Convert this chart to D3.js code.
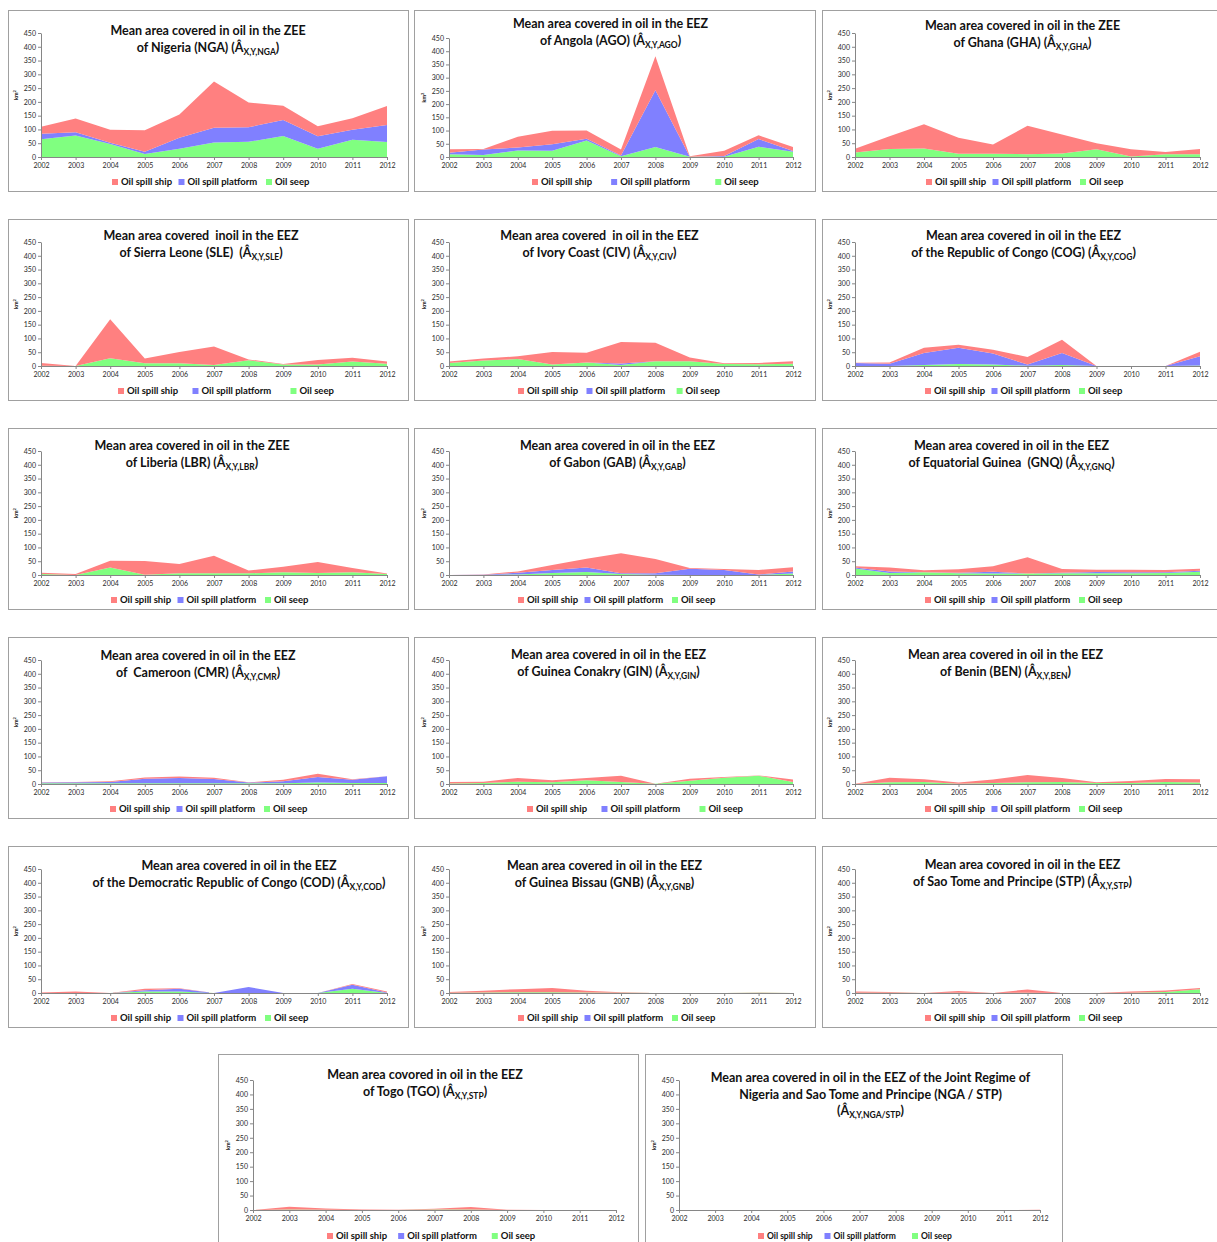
<!DOCTYPE html>
<html>
<head>
<meta charset="utf-8">
<script src="https://cdn.jsdelivr.net/npm/d3@7"></script>
<style>
  body { margin: 0; background: #fff; }
  text { font-family: Lato, "Open Sans", sans-serif; }
</style>
</head>
<body>
<svg id="chart" width="1217" height="1242"></svg>
<script>
// categories and ticks
var years = [2002, 2003, 2004, 2005, 2006, 2007, 2008, 2009, 2010, 2011, 2012];
var yTicks = [0, 50, 100, 150, 200, 250, 300, 350, 400, 450];
var seriesKeys = ["seep", "platform", "ship"];
var legendLabels = ["Oil spill ship", "Oil spill platform", "Oil seep"];

// km2 per year
var ngaSeep     = [64, 78, 47, 11, 30, 53, 55, 76, 30, 63, 54];
var ngaPlatform = [20, 12, 5, 8, 40, 53, 53, 58, 45, 36, 62];
var ngaShip     = [26, 50, 47, 78, 84, 168, 90, 52, 37, 42, 69];

var agoSeep     = [10, 8, 25, 24, 62, 3, 38, 1, 1, 39, 20];
var agoPlatform = [6, 20, 11, 24, 7, 3, 214, 0, 3, 29, 3];
var agoShip     = [13, 2, 41, 51, 31, 22, 129, 2, 20, 14, 15];

var ghaSeep     = [16, 29, 31, 12, 12, 10, 13, 28, 2, 10, 10];
var ghaPlatform = [0, 0, 0, 0, 0, 0, 0, 0, 0, 0, 0];
var ghaShip     = [14, 46, 88, 58, 33, 103, 69, 22, 26, 8, 19];

var sleSeep     = [1, 0, 28, 10, 10, 4, 21, 5, 5, 16, 8];
var slePlatform = [0, 0, 0, 0, 0, 0, 0, 0, 0, 0, 0];
var sleShip     = [10, 0, 142, 17, 41, 67, 3, 2, 17, 14, 8];

var civSeep     = [11, 20, 25, 5, 13, 4, 17, 17, 7, 6, 8];
var civPlatform = [0, 0, 0, 0, 0, 5, 0, 0, 0, 0, 0];
var civShip     = [5, 7, 10, 46, 35, 78, 67, 14, 3, 5, 9];

var cogSeep     = [0, 0, 4, 7, 5, 1, 4, 0, 0, 0, 2];
var cogPlatform = [11, 8, 43, 59, 40, 4, 43, 0, 0, 0, 33];
var cogShip     = [1, 5, 19, 11, 14, 28, 48, 0, 0, 0, 17];

var lbrSeep     = [4, 0, 27, 1, 6, 6, 6, 10, 7, 10, 4];
var lbrPlatform = [0, 0, 0, 0, 0, 0, 0, 0, 0, 0, 0];
var lbrShip     = [4, 4, 25, 50, 34, 64, 10, 20, 40, 15, 1];

var gabSeep     = [0, 0, 2, 7, 11, 4, 1, 0, 0, 0, 5];
var gabPlatform = [0, 1, 6, 11, 16, 2, 5, 23, 18, 2, 8];
var gabShip     = [0, 1, 5, 18, 32, 73, 52, 2, 4, 16, 15];

var gnqSeep     = [24, 7, 10, 6, 5, 5, 6, 6, 6, 7, 12];
var gnqPlatform = [3, 6, 0, 2, 7, 0, 2, 5, 4, 3, 3];
var gnqShip     = [5, 14, 7, 13, 20, 59, 14, 8, 9, 8, 8];

var cmrSeep     = [3, 3, 3, 3, 3, 3, 3, 3, 5, 4, 4];
var cmrPlatform = [2, 3, 4, 16, 19, 15, 2, 7, 20, 11, 24];
var cmrShip     = [1, 1, 3, 5, 5, 5, 1, 5, 12, 2, 0];

var ginSeep     = [2, 4, 8, 6, 14, 7, 1, 12, 23, 30, 7];
var ginPlatform = [0, 0, 0, 0, 0, 0, 0, 0, 0, 0, 0];
var ginShip     = [5, 4, 14, 8, 8, 23, 0, 7, 2, 1, 9];

var benSeep     = [0, 6, 7, 1, 4, 6, 7, 4, 4, 7, 5];
var benPlatform = [0, 0, 0, 0, 0, 0, 0, 0, 0, 0, 0];
var benShip     = [1, 17, 10, 4, 12, 27, 15, 2, 7, 11, 12];

var codSeep     = [0, 0, 0, 5, 5, 0, 0, 0, 0, 15, 0];
var codPlatform = [0, 0, 0, 5, 10, 0, 22, 0, 0, 15, 2];
var codShip     = [2, 5, 0, 5, 2, 0, 0, 0, 0, 3, 3];

var gnbSeep     = [1, 2, 3, 3, 2, 1, 0, 0, 0, 1, 0];
var gnbPlatform = [0, 0, 0, 0, 0, 0, 0, 0, 0, 0, 0];
var gnbShip     = [3, 6, 11, 15, 6, 2, 0, 0, 0, 1, 0];

var stpSeep     = [1, 1, 0, 1, 0, 1, 0, 0, 1, 4, 14];
var stpPlatform = [0, 0, 0, 0, 0, 0, 0, 0, 0, 0, 0];
var stpShip     = [4, 3, 0, 6, 0, 12, 0, 0, 4, 5, 4];

var tgoSeep     = [0, 2, 1, 0, 0, 2, 2, 0, 0, 0, 0];
var tgoPlatform = [0, 0, 0, 0, 0, 0, 0, 0, 0, 0, 0];
var tgoShip     = [0, 9, 4, 2, 1, 2, 8, 1, 0, 0, 0];

var jrSeep      = [0, 0, 0, 0, 0, 0, 0, 0, 0, 0, 0];
var jrPlatform  = [0, 0, 0, 0, 0, 0, 0, 0, 0, 0, 0];
var jrShip      = [0, 0, 0, 0, 0, 0, 0, 0, 0, 0, 1];

// titles: lines, last line ends with (Â + subscript + )
var panels = [
  { lines: ["Mean area covered in oil in the ZEE", "of Nigeria (NGA) (Â"], sub: "X,Y,NGA", seep: ngaSeep, platform: ngaPlatform, ship: ngaShip },
  { lines: ["Mean area covered in oil in the EEZ", "of Angola (AGO) (Â"], sub: "X,Y,AGO", seep: agoSeep, platform: agoPlatform, ship: agoShip },
  { lines: ["Mean area covered in oil in the ZEE", "of Ghana (GHA) (Â"], sub: "X,Y,GHA", seep: ghaSeep, platform: ghaPlatform, ship: ghaShip },
  { lines: ["Mean area covered  inoil in the EEZ", "of Sierra Leone (SLE)  (Â"], sub: "X,Y,SLE", seep: sleSeep, platform: slePlatform, ship: sleShip },
  { lines: ["Mean area covered  in oil in the EEZ", "of Ivory Coast (CIV) (Â"], sub: "X,Y,CIV", seep: civSeep, platform: civPlatform, ship: civShip },
  { lines: ["Mean area covered in oil in the EEZ", "of the Republic of Congo (COG) (Â"], sub: "X,Y,COG", seep: cogSeep, platform: cogPlatform, ship: cogShip },
  { lines: ["Mean area covered in oil in the ZEE", "of Liberia (LBR) (Â"], sub: "X,Y,LBR", seep: lbrSeep, platform: lbrPlatform, ship: lbrShip },
  { lines: ["Mean area covered in oil in the EEZ", "of Gabon (GAB) (Â"], sub: "X,Y,GAB", seep: gabSeep, platform: gabPlatform, ship: gabShip },
  { lines: ["Mean area covered in oil in the EEZ", "of Equatorial Guinea  (GNQ) (Â"], sub: "X,Y,GNQ", seep: gnqSeep, platform: gnqPlatform, ship: gnqShip },
  { lines: ["Mean area covered in oil in the EEZ", "of  Cameroon (CMR) (Â"], sub: "X,Y,CMR", seep: cmrSeep, platform: cmrPlatform, ship: cmrShip },
  { lines: ["Mean area covered in oil in the EEZ", "of Guinea Conakry (GIN) (Â"], sub: "X,Y,GIN", seep: ginSeep, platform: ginPlatform, ship: ginShip },
  { lines: ["Mean area covered in oil in the EEZ", "of Benin (BEN) (Â"], sub: "X,Y,BEN", seep: benSeep, platform: benPlatform, ship: benShip },
  { lines: ["Mean area covered in oil in the EEZ", "of the Democratic Republic of Congo (COD) (Â"], sub: "X,Y,COD", seep: codSeep, platform: codPlatform, ship: codShip },
  { lines: ["Mean area covered in oil in the EEZ", "of Guinea Bissau (GNB) (Â"], sub: "X,Y,GNB", seep: gnbSeep, platform: gnbPlatform, ship: gnbShip },
  { lines: ["Mean area covored in oil in the EEZ", "of Sao Tome and Principe (STP) (Â"], sub: "X,Y,STP", seep: stpSeep, platform: stpPlatform, ship: stpShip },
  { lines: ["Mean area covored in oil in the EEZ", "of Togo (TGO) (Â"], sub: "X,Y,STP", seep: tgoSeep, platform: tgoPlatform, ship: tgoShip },
  { lines: ["Mean area covered in oil in the EEZ of the Joint Regime of", "Nigeria and Sao Tome and Principe (NGA / STP)", "(Â"], sub: "X,Y,NGA/STP", seep: jrSeep, platform: jrPlatform, ship: jrShip }
];

// layout of the grid
var colX = [8, 414, 822], colW = [400, 401, 395];
var rowY = [10, 219, 428, 637, 846];
var colLeft = [33, 35, 33], colRight = [379, 379, 378];
var titleDx = [0, -4, 3, -7, -15, 4, -16, 3, -8, -10, -6, -14, 31, -10, 3, -3, 17];
var titleDy = [21, 14, 16, 17, 17, 17, 18, 18, 18, 19, 18, 18, 20, 20, 19, 21, 24];
var legendDx = [104, 118, 104, 110, 104, 103, 103, 104, 103, 102, 113, 103, 103, 104, 103, 109, 113];
var legendK = [1, 1.19, 1, 1.12, 1.03, 1, 1, 1, 1, 1, 1.12, 1, 1, 1, 1, 1.07, 1];

var layout = panels.map(function(p, i) {
  if (i < 15) {
    var c = i % 3, r = Math.floor(i / 3);
    return { x: colX[c], y: rowY[r], w: colW[c], h: 181, left: colLeft[c], right: colRight[c],
             top: i === 1 ? 28 : 23, bottom: 147, legendY: 172 };
  }
  if (i === 15) return { x: 218, y: 1054, w: 420, h: 195, left: 35, right: 398, top: 26, bottom: 156, legendY: 182 };
  return { x: 645, y: 1054, w: 417, h: 195, left: 34, right: 395, top: 26, bottom: 156, legendY: 182 };
});

var colors = { ship: "#ff8080", platform: "#8080ff", seep: "#80ff80" };
var legendKeys = ["ship", "platform", "seep"];
var legendOffsets = [0, 66.5, 154];

var svg = d3.select("#chart");

panels.forEach(function(p, i) {
  var L = layout[i];
  var g = svg.append("g").attr("transform", "translate(" + [L.x, L.y] + ")");

  g.append("rect")
    .attr("x", 0.5).attr("y", 0.5)
    .attr("width", L.w).attr("height", L.h)
    .attr("fill", "#fff")
    .attr("stroke", "#a0a0a0");

  var x = d3.scaleLinear().domain([years[0], years[years.length - 1]]).range([L.left, L.right]);
  var y = d3.scaleLinear().domain([0, 450]).range([L.bottom, L.top]);

  var rows = years.map(function(yr, j) {
    return { year: yr, seep: p.seep[j], platform: p.platform[j], ship: p.ship[j] };
  });
  var layers = d3.stack().keys(seriesKeys)(rows);

  var area = d3.area()
    .x(function(d) { return x(d.data.year); })
    .y0(function(d) { return y(d[0]); })
    .y1(function(d) { return y(d[1]); });

  g.selectAll("path.layer")
    .data(layers)
    .enter()
    .append("path")
    .attr("class", "layer")
    .attr("d", area)
    .attr("fill", function(d) { return colors[d.key]; });

  var yAxis = g.append("g")
    .attr("transform", "translate(" + L.left + ",0)")
    .call(d3.axisLeft(y).tickValues(yTicks).tickSize(3).tickSizeOuter(0).tickPadding(2));
  var xAxis = g.append("g")
    .attr("transform", "translate(0," + L.bottom + ")")
    .call(d3.axisBottom(x).tickValues(years).tickFormat(d3.format("d")).tickSize(3).tickSizeOuter(0).tickPadding(3));

  [yAxis, xAxis].forEach(function(a) {
    a.select(".domain").attr("stroke", "#868686");
    a.selectAll(".tick line").attr("stroke", "#868686");
    a.selectAll(".tick text")
      .attr("fill", "#2a2a2a")
      .style("font-family", "Lato, sans-serif")
      .style("font-size", "7px");
  });

  // km2 label
  var ky = (L.top + L.bottom) / 2;
  var km = g.append("text")
    .attr("transform", "translate(" + (L.left - 23) + "," + ky + ") rotate(-90)")
    .attr("text-anchor", "middle")
    .style("font-size", "5.5px")
    .style("font-weight", "bold")
    .attr("fill", "#222");
  km.append("tspan").text("km");
  km.append("tspan").attr("dy", -2).style("font-size", "4px").text("2");

  // title
  var tx = L.w / 2 + titleDx[i];
  var title = g.append("text")
    .attr("text-anchor", "middle")
    .style("font-size", "12.5px")
    .style("font-weight", "bold")
    .style("white-space", "pre")
    .attr("fill", "#111");
  p.lines.forEach(function(line, k) {
    title.append("tspan")
      .attr("x", tx)
      .attr("y", titleDy[i] + 4 + k * 16.5)
      .text(line);
  });
  title.append("tspan").attr("dy", 3).style("font-size", "8.5px").text(p.sub);
  title.append("tspan").attr("dy", -3).text(")");

  // legend
  var lg = g.append("g").attr("transform", "translate(" + legendDx[i] + "," + L.legendY + ")");
  var item = lg.selectAll("g")
    .data(legendKeys)
    .enter()
    .append("g")
    .attr("transform", function(d, k) { return "translate(" + (legendOffsets[k] * legendK[i]) + ",0)"; });
  item.append("rect")
    .attr("x", 0).attr("y", -3)
    .attr("width", 6).attr("height", 6)
    .attr("fill", function(d) { return colors[d]; });
  item.append("text")
    .attr("x", 9).attr("y", 3.2)
    .style("font-size", i === 16 ? "8.5px" : "9.5px")
    .style("font-weight", "bold")
    .attr("fill", "#111")
    .text(function(d, k) { return legendLabels[k]; });
});
</script>
</body>
</html>
